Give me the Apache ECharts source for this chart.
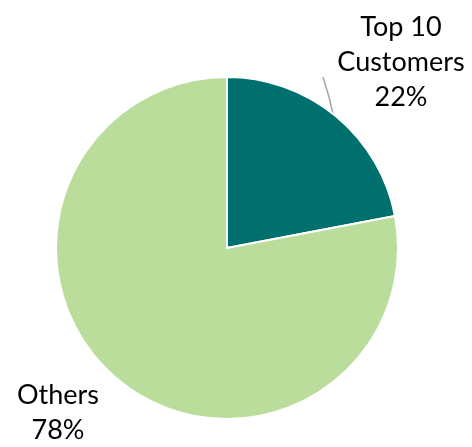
<!DOCTYPE html>
<html>
<head>
<meta charset="utf-8">
<script src="https://cdn.jsdelivr.net/npm/echarts@6/dist/echarts.min.js"></script>
<style>
html,body{margin:0;padding:0;background:#fff;}
#chart{width:472px;height:447px;}
</style>
</head>
<body>
<div id="chart"></div>
<script>
const categories = ['Top 10\nCustomers', 'Others'];
const values = [22, 78];
const colors = ['#00706F', '#BBDD9B'];

const chart = echarts.init(document.getElementById('chart'), null, {renderer: 'canvas'});
const labelPos = [
  {x: 401, y: 62},
  {x: 58, y: 413}
];
chart.setOption({
  animation: false,
  series: [{
    type: 'pie',
    center: [227, 248],
    radius: 171,
    startAngle: 90,
    clockwise: true,
    data: categories.map((c, i) => ({name: c, value: values[i], itemStyle: {color: colors[i]}})),
    itemStyle: {borderColor: '#fff', borderWidth: 2},
    label: {
      show: true,
      position: 'outside',
      formatter: '{b}\n{d}%',
      fontFamily: 'Lato, "Liberation Sans", sans-serif',
      fontSize: 27,
      lineHeight: 35,
      color: '#000',
      align: 'center',
      overflow: 'none'
    },
    labelLine: {show: true, length: 5, length2: 5, lineStyle: {color: '#A6A6A6', width: 1.5}},
    labelLayout: function (params) {
      const p = labelPos[params.dataIndex];
      const out = {x: p.x, y: p.y, align: 'center', verticalAlign: 'middle', width: 200};
      if (params.dataIndex === 0) {
        out.labelLinePoints = [[334, 118], [329, 97], [323, 77]];
      } else {
        out.labelLinePoints = [[0, 0], [0, 0], [0, 0]];
      }
      return out;
    }
  }]
});
</script>
</body>
</html>
